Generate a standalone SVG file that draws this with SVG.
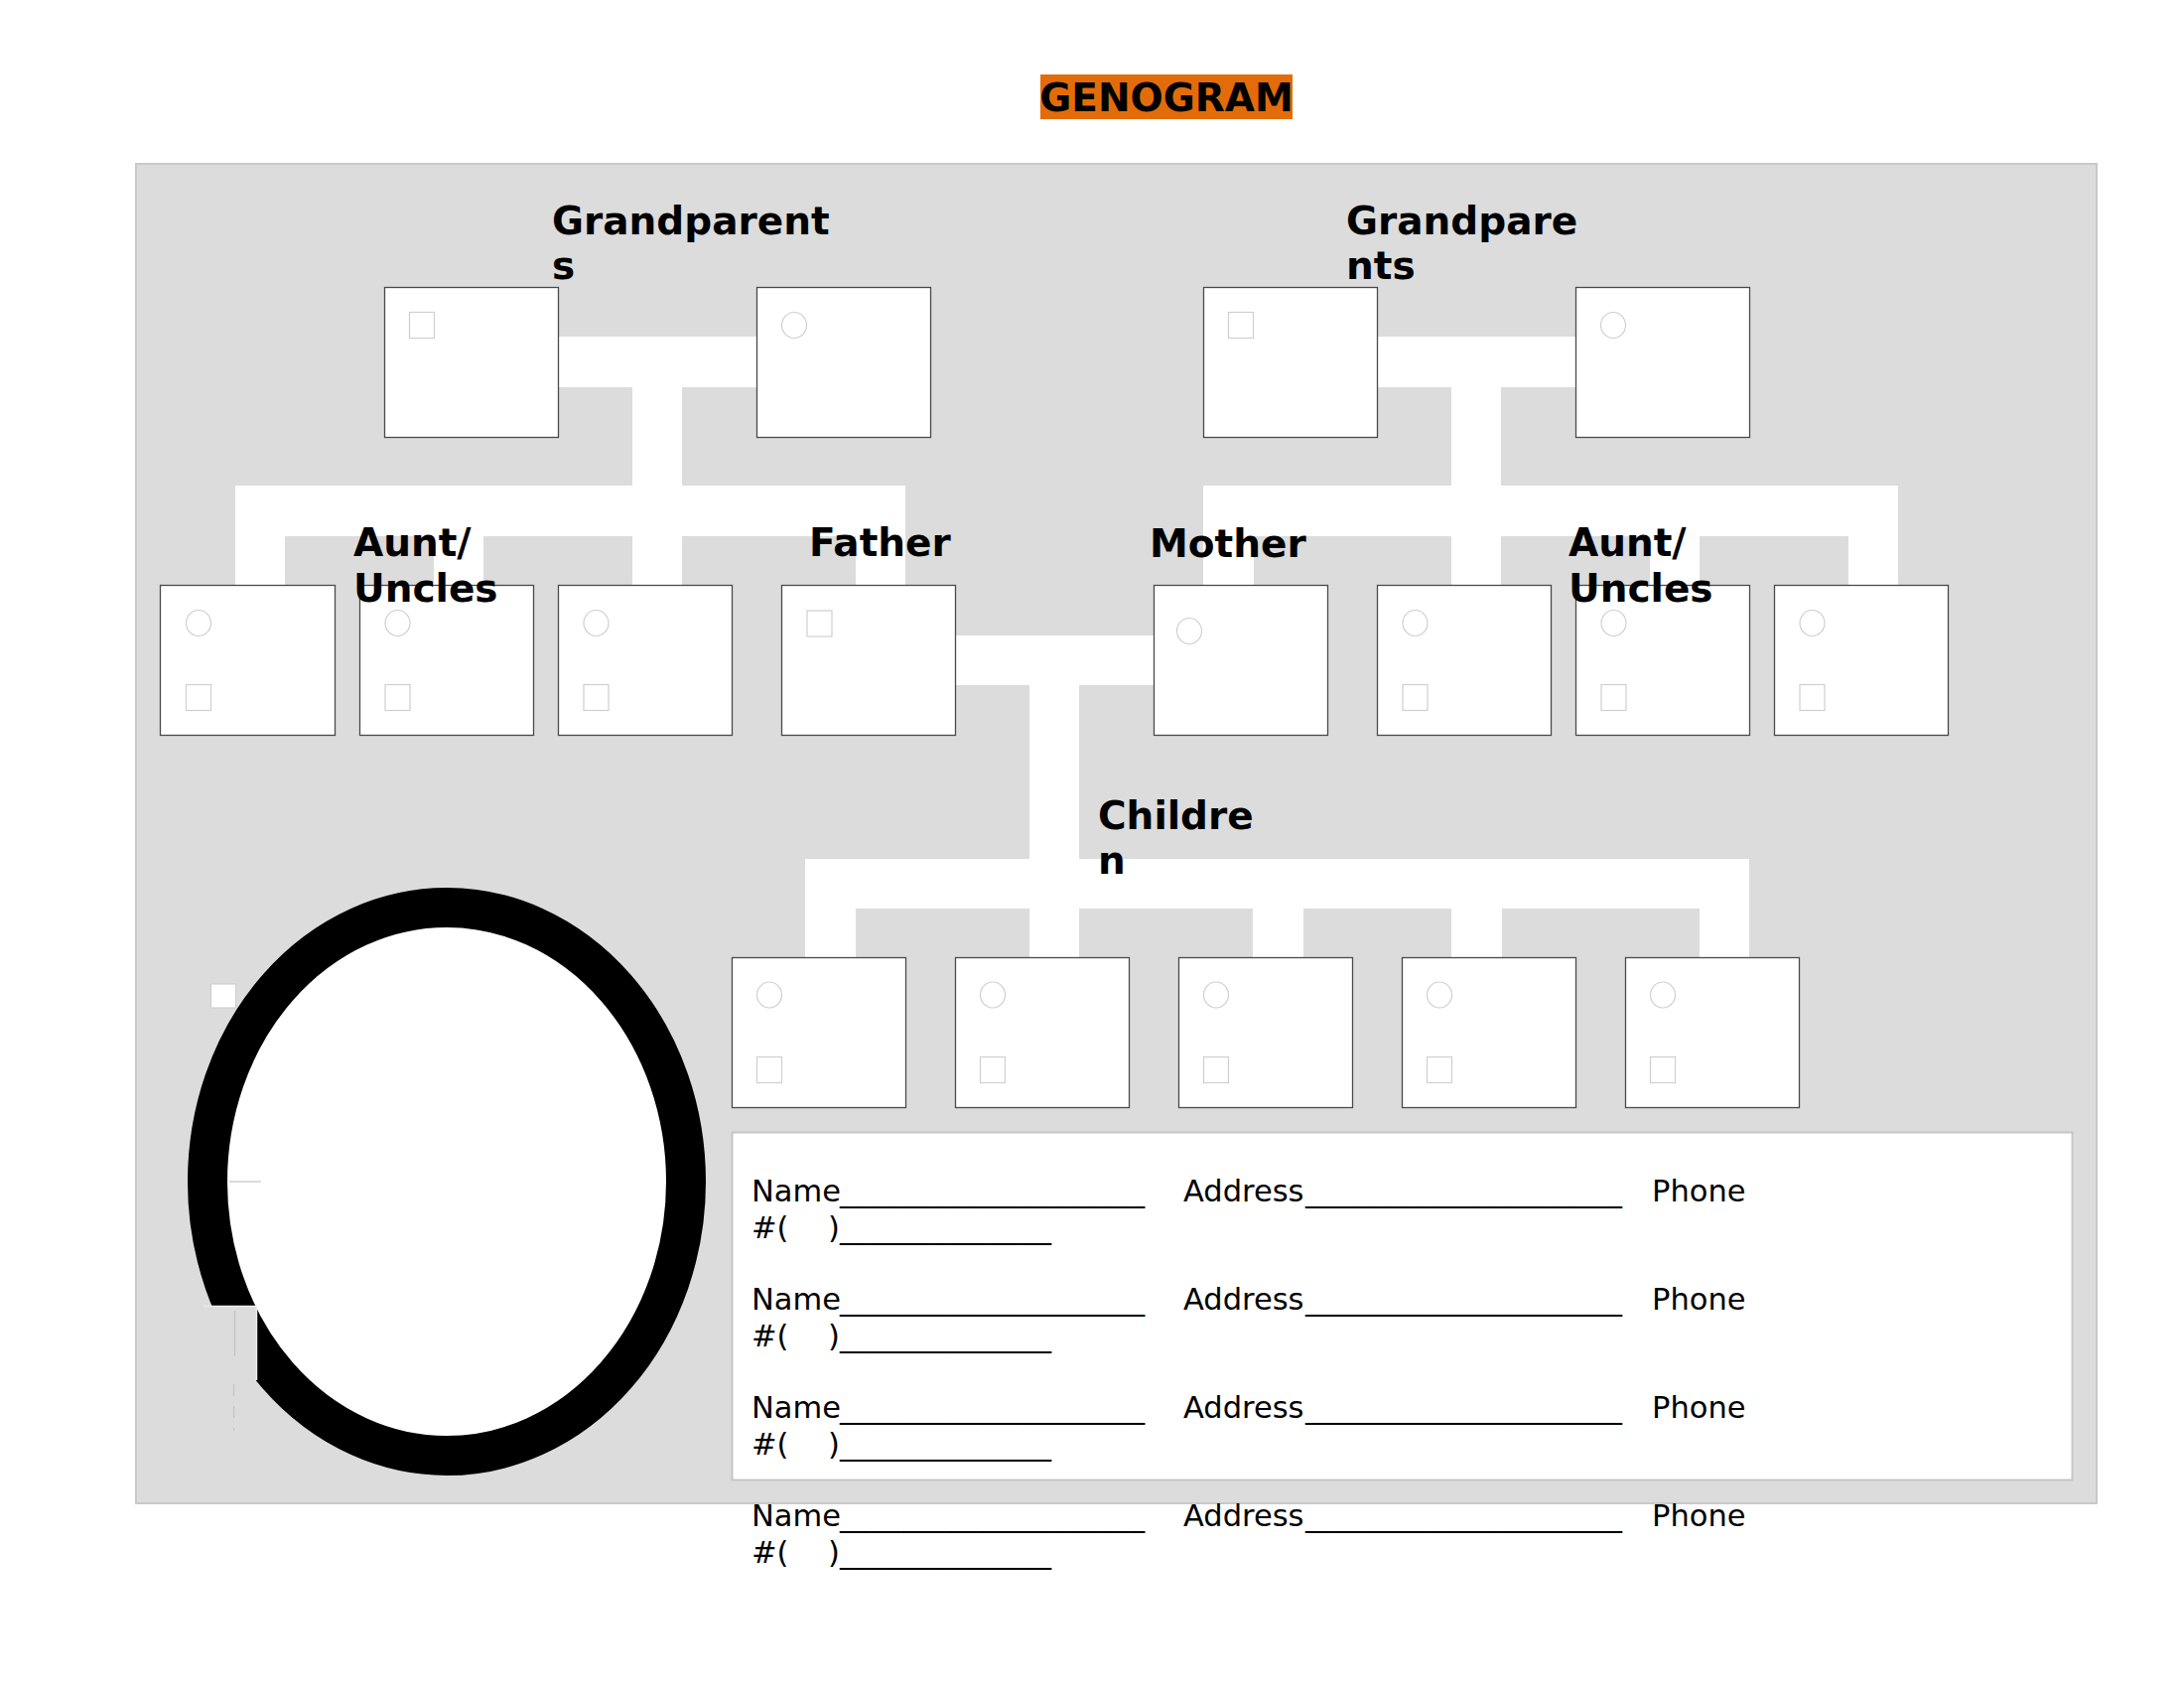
<svg xmlns="http://www.w3.org/2000/svg" width="2200" height="1700" viewBox="0 0 2200 1700">
<style>
.bg{fill:#dcdcdc;stroke:#c9c9c9;stroke-width:2}
.conn rect{fill:#ffffff}
.box{fill:#ffffff;stroke:#4a4a4a;stroke-width:1.3}
.sym{fill:#ffffff;stroke:#cfcfcf;stroke-width:1.2}
.lbl{font-family:"DejaVu Sans",sans-serif;font-weight:bold;font-size:39px;fill:#000}
.row{font-family:"DejaVu Sans",sans-serif;font-size:30.5px;fill:#000}
.faint{stroke:#c4c4c4;stroke-width:1.2;fill:none}
</style>
<rect width="2200" height="1700" fill="#ffffff"/>
<g id="title">
<rect x="1048" y="75" width="254" height="45" fill="#e36c0a"/>
<text x="1175" y="112" text-anchor="middle" style="font-family:'DejaVu Sans',sans-serif;font-weight:bold;font-size:39px" fill="#000">GENOGRAM</text>
</g>
<rect id="panel" class="bg" x="137" y="165" width="1975" height="1349"/>
<g id="connectors" class="conn">
<rect x="562" y="339" width="200" height="51"/>
<rect x="637" y="389" width="50" height="101"/>
<rect x="237" y="489" width="675" height="51"/>
<rect x="237" y="539" width="50" height="51"/>
<rect x="437" y="539" width="50" height="51"/>
<rect x="637" y="539" width="50" height="51"/>
<rect x="862" y="539" width="50" height="51"/>
<rect x="1387" y="339" width="200" height="51"/>
<rect x="1462" y="389" width="50" height="101"/>
<rect x="1212" y="489" width="700" height="51"/>
<rect x="1212" y="539" width="51" height="51"/>
<rect x="1462" y="539" width="50" height="51"/>
<rect x="1662" y="539" width="50" height="51"/>
<rect x="1862" y="539" width="50" height="51"/>
<rect x="962" y="640" width="200" height="50"/>
<rect x="1037" y="689" width="50" height="177"/>
<rect x="811" y="865" width="951" height="50"/>
<rect x="811" y="914" width="51" height="51"/>
<rect x="1037" y="914" width="50" height="51"/>
<rect x="1262" y="914" width="51" height="51"/>
<rect x="1462" y="914" width="51" height="51"/>
<rect x="1712" y="914" width="50" height="51"/>
</g>
<g id="gp1"><rect class="box" x="387.5" y="289.5" width="175" height="151"/><rect class="sym" x="412.5" y="314.5" width="25" height="26"/></g>
<g id="gp2"><rect class="box" x="762.5" y="289.5" width="175" height="151"/><ellipse class="sym" cx="800" cy="327.5" rx="12.5" ry="13"/></g>
<g id="gp3"><rect class="box" x="1212.5" y="289.5" width="175" height="151"/><rect class="sym" x="1237.5" y="314.5" width="25" height="26"/></g>
<g id="gp4"><rect class="box" x="1587.5" y="289.5" width="175" height="151"/><ellipse class="sym" cx="1625" cy="327.5" rx="12.5" ry="13"/></g>
<g id="aunt1"><rect class="box" x="161.5" y="589.5" width="176" height="151"/><ellipse class="sym" cx="200" cy="627.5" rx="12.5" ry="13"/><rect class="sym" x="187.5" y="689.5" width="25" height="26"/></g>
<g id="aunt2"><rect class="box" x="362.5" y="589.5" width="175" height="151"/><ellipse class="sym" cx="400.5" cy="627.5" rx="12.5" ry="13"/><rect class="sym" x="388" y="689.5" width="25" height="26"/></g>
<g id="aunt3"><rect class="box" x="562.5" y="589.5" width="175" height="151"/><ellipse class="sym" cx="600.5" cy="627.5" rx="12.5" ry="13"/><rect class="sym" x="588" y="689.5" width="25" height="26"/></g>
<g id="father"><rect class="box" x="787.5" y="589.5" width="175" height="151"/><rect class="sym" x="813" y="615" width="25" height="26"/></g>
<g id="mother"><rect class="box" x="1162.5" y="589.5" width="175" height="151"/><ellipse class="sym" cx="1198" cy="635.5" rx="12.5" ry="13"/></g>
<g id="aunt4"><rect class="box" x="1387.5" y="589.5" width="175" height="151"/><ellipse class="sym" cx="1425.5" cy="627.5" rx="12.5" ry="13"/><rect class="sym" x="1413" y="689.5" width="25" height="26"/></g>
<g id="aunt5"><rect class="box" x="1587.5" y="589.5" width="175" height="151"/><ellipse class="sym" cx="1625.5" cy="627.5" rx="12.5" ry="13"/><rect class="sym" x="1613" y="689.5" width="25" height="26"/></g>
<g id="aunt6"><rect class="box" x="1787.5" y="589.5" width="175" height="151"/><ellipse class="sym" cx="1825.5" cy="627.5" rx="12.5" ry="13"/><rect class="sym" x="1813" y="689.5" width="25" height="26"/></g>
<g id="child1"><rect class="box" x="737.5" y="964.5" width="175" height="151"/><ellipse class="sym" cx="775" cy="1002" rx="12.5" ry="13"/><rect class="sym" x="762.5" y="1064.5" width="25" height="26"/></g>
<g id="child2"><rect class="box" x="962.5" y="964.5" width="175" height="151"/><ellipse class="sym" cx="1000" cy="1002" rx="12.5" ry="13"/><rect class="sym" x="987.5" y="1064.5" width="25" height="26"/></g>
<g id="child3"><rect class="box" x="1187.5" y="964.5" width="175" height="151"/><ellipse class="sym" cx="1225" cy="1002" rx="12.5" ry="13"/><rect class="sym" x="1212.5" y="1064.5" width="25" height="26"/></g>
<g id="child4"><rect class="box" x="1412.5" y="964.5" width="175" height="151"/><ellipse class="sym" cx="1450" cy="1002" rx="12.5" ry="13"/><rect class="sym" x="1437.5" y="1064.5" width="25" height="26"/></g>
<g id="child5"><rect class="box" x="1637.5" y="964.5" width="175" height="151"/><ellipse class="sym" cx="1675" cy="1002" rx="12.5" ry="13"/><rect class="sym" x="1662.5" y="1064.5" width="25" height="26"/></g>
<g id="labels">
<text class="lbl" x="556" y="236">Grandparent</text>
<text class="lbl" x="556" y="281">s</text>
<text class="lbl" x="1356" y="236">Grandpare</text>
<text class="lbl" x="1356" y="281">nts</text>
<text class="lbl" x="356" y="560">Aunt/</text>
<text class="lbl" x="356" y="606">Uncles</text>
<text class="lbl" x="815" y="560">Father</text>
<text class="lbl" x="1158" y="561">Mother</text>
<text class="lbl" x="1580" y="560">Aunt/</text>
<text class="lbl" x="1580" y="606">Uncles</text>
<text class="lbl" x="1106" y="835">Childre</text>
<text class="lbl" x="1106" y="880">n</text>
</g>
<g id="ring">
<rect class="sym" x="212.5" y="991" width="25" height="24" style="stroke:#d0d0d0"/>
<ellipse cx="450" cy="1190" rx="241" ry="276" fill="#ffffff" stroke="#000" stroke-width="40"/>
<rect x="195" y="1315" width="63" height="76" fill="#dcdcdc"/>
<polyline points="205,1315.5 258.5,1315.5 258.5,1390" fill="none" stroke="#ececec" stroke-width="1.5"/>
<line class="faint" x1="236.5" y1="1320" x2="236.5" y2="1366"/>
<line class="faint" x1="235.5" y1="1394" x2="235.5" y2="1441" stroke-dasharray="12 10"/>
<line class="faint" x1="231" y1="1190" x2="263" y2="1190"/>
</g>
<g id="info">
<rect x="737.5" y="1140.5" width="1350" height="350" fill="#ffffff" stroke="#c6c6c6" stroke-width="2"/>
<g class="row">
<text x="757" y="1210">Name</text><text x="846" y="1210" textLength="307" lengthAdjust="spacingAndGlyphs">____________________</text>
<text x="1192" y="1210">Address</text><text x="1315" y="1210" textLength="319" lengthAdjust="spacingAndGlyphs">_____________________</text>
<text x="1664" y="1210">Phone</text>
<text x="757" y="1247">#(</text><text x="834" y="1247">)</text><text x="846" y="1247" textLength="213" lengthAdjust="spacingAndGlyphs">______________</text>
<text x="757" y="1319">Name</text><text x="846" y="1319" textLength="307" lengthAdjust="spacingAndGlyphs">____________________</text>
<text x="1192" y="1319">Address</text><text x="1315" y="1319" textLength="319" lengthAdjust="spacingAndGlyphs">_____________________</text>
<text x="1664" y="1319">Phone</text>
<text x="757" y="1356">#(</text><text x="834" y="1356">)</text><text x="846" y="1356" textLength="213" lengthAdjust="spacingAndGlyphs">______________</text>
<text x="757" y="1428">Name</text><text x="846" y="1428" textLength="307" lengthAdjust="spacingAndGlyphs">____________________</text>
<text x="1192" y="1428">Address</text><text x="1315" y="1428" textLength="319" lengthAdjust="spacingAndGlyphs">_____________________</text>
<text x="1664" y="1428">Phone</text>
<text x="757" y="1465">#(</text><text x="834" y="1465">)</text><text x="846" y="1465" textLength="213" lengthAdjust="spacingAndGlyphs">______________</text>
<text x="757" y="1537">Name</text><text x="846" y="1537" textLength="307" lengthAdjust="spacingAndGlyphs">____________________</text>
<text x="1192" y="1537">Address</text><text x="1315" y="1537" textLength="319" lengthAdjust="spacingAndGlyphs">_____________________</text>
<text x="1664" y="1537">Phone</text>
<text x="757" y="1574">#(</text><text x="834" y="1574">)</text><text x="846" y="1574" textLength="213" lengthAdjust="spacingAndGlyphs">______________</text>
</g>
</g>
</svg>
